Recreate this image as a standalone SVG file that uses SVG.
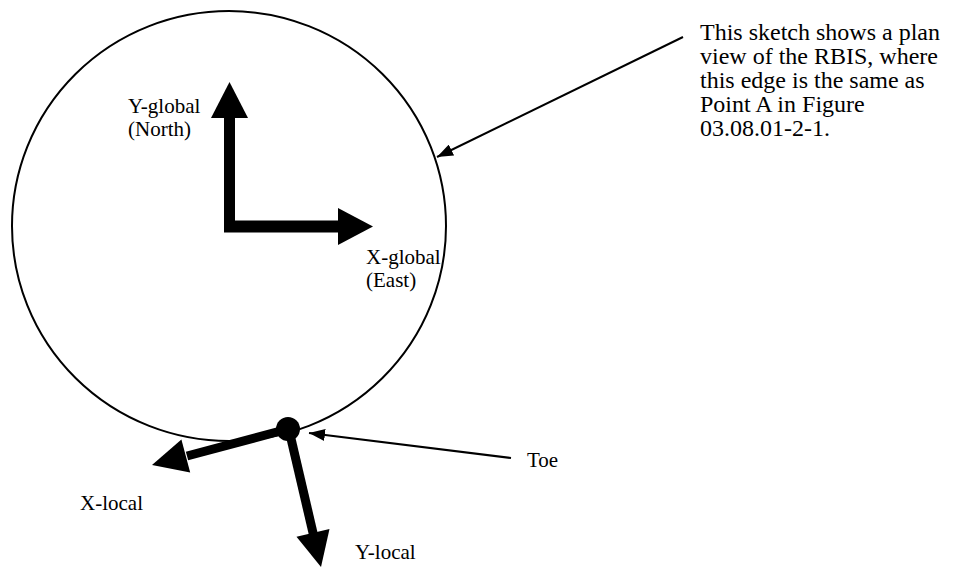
<svg xmlns="http://www.w3.org/2000/svg" width="972" height="569" viewBox="0 0 972 569">
<defs>
<style>
text{font-family:"Liberation Serif","Times New Roman",serif;font-size:21px;fill:#000}
.note{font-size:24px}
.thin{stroke:#000;stroke-width:2;fill:none}
.thick{stroke:#000;stroke-width:9;fill:none}
.head{fill:#000}
</style>
<marker id="ah2" viewBox="0 0 16 12" markerWidth="16" markerHeight="12" refX="16" refY="6" orient="auto" markerUnits="userSpaceOnUse">
<path d="M0,0 L16,6 L0,12 Z" fill="#000"/>
</marker>
</defs>
<g id="rbis">
<ellipse cx="229" cy="226" rx="217" ry="215" fill="none" stroke="#000" stroke-width="2"/>
</g>
<g id="global-axes">
<rect x="224" y="116" width="11" height="116" fill="#000"/>
<polygon class="head" points="211,118 229.5,82 248,118"/>
<rect x="224" y="220.5" width="116" height="12" fill="#000"/>
<polygon class="head" points="338,208 373,226.5 338,245"/>
<text x="128" y="113">Y-global</text>
<text x="128" y="136">(North)</text>
<text x="366" y="264">X-global</text>
<text x="366" y="287">(East)</text>
</g>
<g id="toe">
<circle cx="288" cy="429" r="12" fill="#000"/>
</g>
<g id="local-axes">
<line class="thick" x1="288" y1="429" x2="187" y2="456"/>
<polygon class="head" points="152,465 190.2,472.4 181.4,439.6"/>
<line class="thick" x1="289" y1="430" x2="313.5" y2="535"/>
<polygon class="head" points="321,567 329.5,529 296.5,536.8"/>
<text x="80" y="510">X-local</text>
<text x="355" y="559">Y-local</text>
</g>
<g id="connectors">
<line class="thin" x1="683" y1="37" x2="437" y2="157" marker-end="url(#ah2)"/>
<line class="thin" x1="511" y1="458" x2="309" y2="433" marker-end="url(#ah2)"/>
</g>
<g id="note">
<text class="note" x="700" y="40">This sketch shows a plan</text>
<text class="note" x="700" y="64">view of the RBIS, where</text>
<text class="note" x="700" y="88">this edge is the same as</text>
<text class="note" x="700" y="112">Point A in Figure</text>
<text class="note" x="700" y="136">03.08.01-2-1.</text>
<text x="527" y="467">Toe</text>
</g>
</svg>
